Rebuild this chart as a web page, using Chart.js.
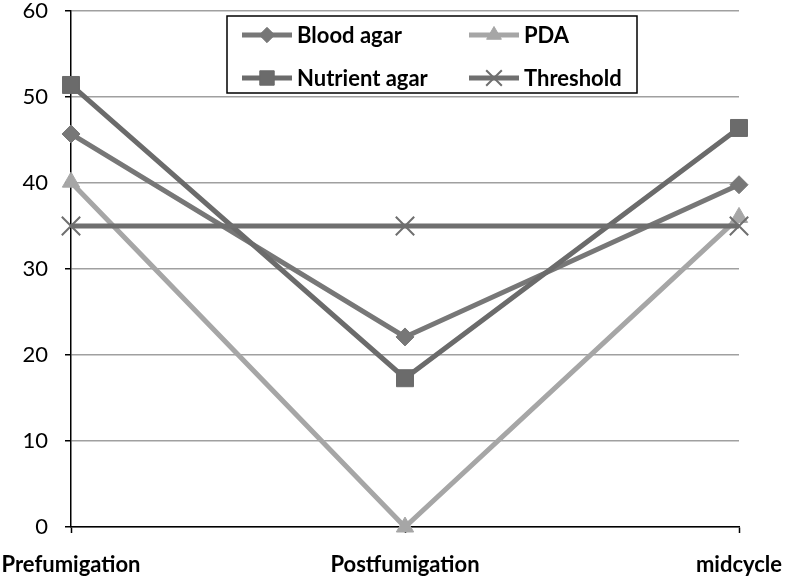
<!DOCTYPE html>
<html>
<head>
<meta charset="utf-8">
<script src="https://cdn.jsdelivr.net/npm/chart.js@4"></script>
<style>
  html, body { margin: 0; padding: 0; background: #fff; }
  #wrap { width: 786px; height: 577px; position: relative; }
</style>
</head>
<body>
<div id="wrap"><canvas id="fumChart" width="786" height="577"></canvas></div>
<script>
const stages = ['Prefumigation', 'Postfumigation', 'midcycle'];
const bloodAgar = [45.7, 22.1, 39.8];
const pdaValues = [40.1, 0, 36.0];
const nutrientAgar = [51.4, 17.3, 46.4];
const threshold = [35, 35, 35];
const yTicks = [0, 10, 20, 30, 40, 50, 60];

const FONT = 'Lato, "Open Sans", sans-serif';

// legend drawn inside the plot, in a bordered box like the original
const boxLegend = {
    id: 'boxLegend',
    afterDatasetsDraw(chart) {
        const ctx = chart.ctx;
        const box = { x: 227, y: 16, w: 410, h: 77 };
        ctx.save();
        ctx.fillStyle = '#fff';
        ctx.fillRect(box.x, box.y, box.w, box.h);
        ctx.strokeStyle = '#000';
        ctx.lineWidth = 1.5;
        ctx.strokeRect(box.x, box.y, box.w, box.h);

        const colX = [242, 469];
        const rowY = [35, 78];
        chart.data.datasets.forEach((ds, i) => {
            const x0 = colX[i % 2];
            const y0 = rowY[Math.floor(i / 2)];
            ctx.strokeStyle = ds.borderColor;
            ctx.lineWidth = ds.borderWidth;
            ctx.beginPath();
            ctx.moveTo(x0, y0);
            ctx.lineTo(x0 + 50, y0);
            ctx.stroke();
            ctx.fillStyle = ds.pointBackgroundColor;
            ctx.strokeStyle = ds.pointBorderColor;
            ctx.lineWidth = ds.pointBorderWidth;
            Chart.helpers.drawPoint(ctx, {
                pointStyle: ds.pointStyle,
                radius: ds.pointRadius * 0.85,
                borderWidth: ds.pointBorderWidth,
                rotation: 0
            }, x0 + 25, y0);
            ctx.fillStyle = '#000';
            ctx.font = 'bold 22px ' + FONT;
            ctx.textBaseline = 'middle';
            ctx.textAlign = 'left';
            ctx.fillText(ds.label, x0 + 55, y0 + 1);
        });
        ctx.restore();
    }
};

const ctx = document.getElementById('fumChart').getContext('2d');
new Chart(ctx, {
    type: 'line',
    data: {
        labels: stages,
        datasets: [
            {
                label: 'Blood agar', data: bloodAgar, order: 4, clip: false,
                borderColor: '#777777', borderWidth: 5,
                pointStyle: 'rectRot', pointRadius: 9, pointBorderWidth: 1,
                pointBackgroundColor: '#777777', pointBorderColor: '#777777'
            },
            {
                label: 'PDA', data: pdaValues, order: 3, clip: false,
                borderColor: '#a6a6a6', borderWidth: 5,
                pointStyle: 'triangle', pointRadius: 10, pointBorderWidth: 1,
                pointBackgroundColor: '#a6a6a6', pointBorderColor: '#a6a6a6'
            },
            {
                label: 'Nutrient agar', data: nutrientAgar, order: 2, clip: false,
                borderColor: '#6b6b6b', borderWidth: 5,
                pointStyle: 'rect', pointRadius: 12, pointBorderWidth: 1,
                pointBackgroundColor: '#6b6b6b', pointBorderColor: '#6b6b6b'
            },
            {
                label: 'Threshold', data: threshold, order: 1, clip: false,
                borderColor: '#6f6f6f', borderWidth: 5,
                pointStyle: 'crossRot', pointRadius: 13, pointBorderWidth: 2,
                pointBackgroundColor: '#6f6f6f', pointBorderColor: '#6f6f6f'
            }
        ]
    },
    options: {
        responsive: false,
        animation: false,
        layout: { autoPadding: false, padding: { top: 11, right: 47, left: 0, bottom: 0 } },
        elements: { line: { tension: 0 } },
        plugins: {
            legend: { display: false },
            tooltip: { enabled: false }
        },
        scales: {
            x: {
                offset: false,
                afterFit(scale) {
                    scale.height = 50;
                    scale.paddingLeft = 0;
                    scale.paddingRight = 0;
                },
                grid: { drawOnChartArea: false, drawTicks: true, tickLength: 6, tickColor: '#000', tickWidth: 1.5 },
                border: { color: '#000', width: 1.5 },
                ticks: {
                    color: '#000', padding: 19, maxRotation: 0, autoSkip: false,
                    font: { family: FONT, size: 22, weight: 'bold' }
                }
            },
            y: {
                min: 0, max: 60,
                afterFit(scale) {
                    scale.width = 71;
                    scale.paddingTop = 0;
                    scale.paddingBottom = 0;
                },
                afterBuildTicks(scale) { scale.ticks = yTicks.map(v => ({ value: v })); },
                grid: { color: '#a0a0a0', lineWidth: 1.5, tickLength: 6, tickColor: '#000', tickWidth: 1.5 },
                border: { color: '#000', width: 1.5 },
                ticks: {
                    color: '#000', padding: 17,
                    font: { family: FONT, size: 22 }
                }
            }
        }
    },
    plugins: [boxLegend]
});
</script>
</body>
</html>
